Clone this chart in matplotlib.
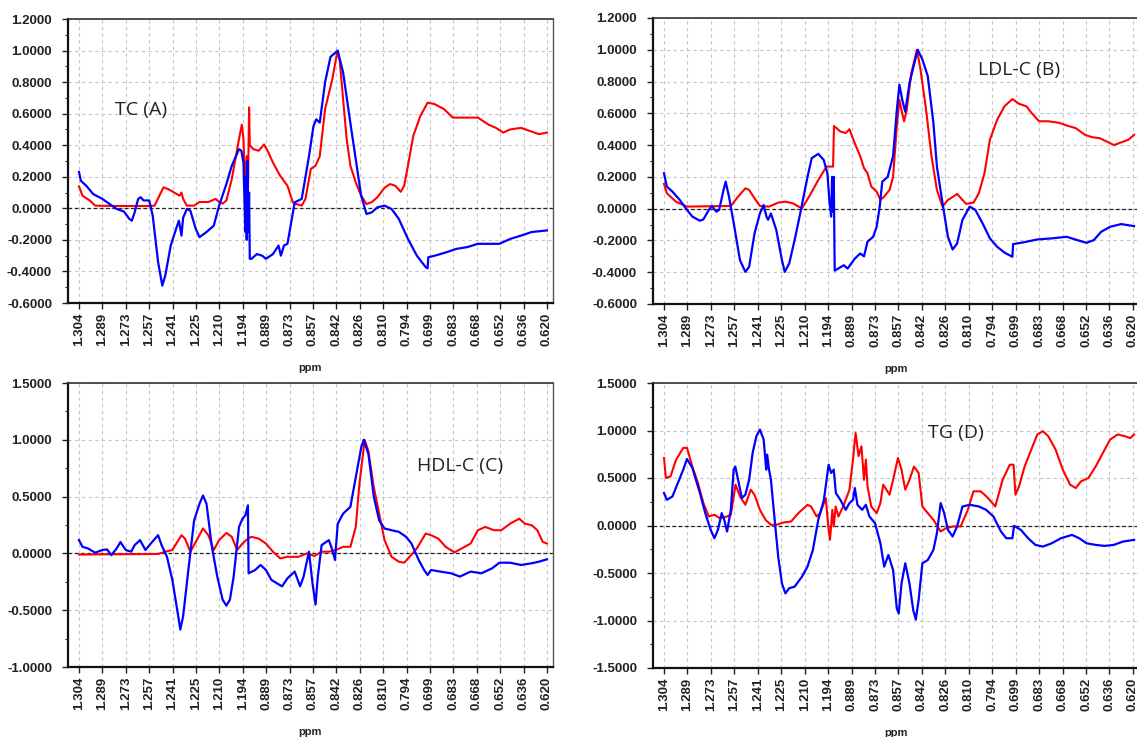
import matplotlib
matplotlib.use("Agg")
import matplotlib.pyplot as plt
from matplotlib.ticker import MultipleLocator, FormatStrFormatter, FixedLocator
import numpy as np

# ---------------- data ----------------
ppm_labels = ["1.304", "1.289", "1.273", "1.257", "1.241", "1.225", "1.210", "1.194",
              "0.889", "0.873", "0.857", "0.842", "0.826", "0.810", "0.794", "0.699",
              "0.683", "0.668", "0.652", "0.636", "0.620"]

# positions are in units of the ppm tick index (0 = 1.304 ... 20 = 0.620)
tc_red_x = [0, 0.15, 0.46, 0.69, 1.5, 2.5, 3.07, 3.23, 3.61, 3.84, 4.30, 4.38, 4.45, 4.61, 4.92, 5.15, 5.53,
            5.84, 5.99, 6.14, 6.30, 6.53, 6.84, 6.96, 7.03, 7.10, 7.17, 7.22, 7.27, 7.30, 7.45, 7.68, 7.91,
            8.06, 8.29, 8.60, 8.91, 9.14, 9.29, 9.52, 9.68, 9.91, 10.11, 10.29, 10.52, 10.83, 11.03, 11.14,
            11.29, 11.44, 11.60, 11.83, 12.06, 12.29, 12.52, 12.75, 13.06, 13.29, 13.52, 13.75, 13.90, 14.06,
            14.29, 14.59, 14.90, 15.21, 15.59, 15.98, 16.59, 17.05, 17.51, 17.82, 18.13, 18.43, 18.89, 19.28,
            19.66, 20.0]
tc_red_y = [0.139, 0.08, 0.05, 0.017, 0.015, 0.015, 0.015, 0.017, 0.133, 0.12, 0.08, 0.10, 0.06, 0.017, 0.017,
            0.04, 0.04, 0.06, 0.04, 0.03, 0.05, 0.185, 0.44, 0.53, 0.44, 0.143, 0.33, 0.10, 0.64, 0.40, 0.375,
            0.365, 0.405, 0.365, 0.29, 0.206, 0.143, 0.038, 0.027, 0.017, 0.06, 0.25, 0.27, 0.33, 0.63, 0.82,
            0.985, 0.94, 0.69, 0.44, 0.27, 0.164, 0.08, 0.027, 0.04, 0.07, 0.13, 0.154, 0.143, 0.105, 0.143,
            0.27, 0.46, 0.585, 0.67, 0.66, 0.63, 0.575, 0.575, 0.575, 0.53, 0.51, 0.48, 0.50, 0.51, 0.49, 0.47,
            0.48]
tc_blue_x = [0, 0.08, 0.31, 0.61, 1.0, 1.31, 1.61, 1.92, 2.15, 2.26, 2.38, 2.53, 2.64, 2.76, 3.0, 3.15, 3.38,
             3.56, 3.69, 3.92, 4.15, 4.27, 4.38, 4.45, 4.61, 4.76, 4.99, 5.15, 5.45, 5.76, 5.99, 6.30, 6.53,
             6.84, 6.94, 7.03, 7.11, 7.14, 7.17, 7.20, 7.23, 7.27, 7.30, 7.37, 7.60, 7.83, 7.99, 8.29, 8.53,
             8.63, 8.76, 8.91, 9.22, 9.52, 9.83, 10.02, 10.14, 10.29, 10.52, 10.75, 11.06, 11.29, 11.60, 11.83,
             12.06, 12.29, 12.52, 12.75, 13.06, 13.36, 13.67, 14.06, 14.44, 14.82, 14.90, 14.93, 15.21, 15.67,
             16.13, 16.59, 17.05, 17.51, 17.97, 18.43, 18.89, 19.35, 20.0]
tc_blue_y = [0.23, 0.175, 0.143, 0.09, 0.06, 0.027, -0.004, -0.02, -0.067, -0.078, -0.025, 0.06, 0.07, 0.05,
             0.05, -0.046, -0.34, -0.49, -0.425, -0.236, -0.13, -0.078, -0.173, -0.06, -0.004, -0.015, -0.13,
             -0.183, -0.15, -0.11, 0.017, 0.154, 0.27, 0.375, 0.365, 0.29, -0.15, 0.2, -0.2, 0.3, -0.15, 0.1,
             -0.32, -0.32, -0.29, -0.30, -0.32, -0.29, -0.236, -0.30, -0.236, -0.225, 0.038, 0.06, 0.33, 0.52,
             0.564, 0.543, 0.8, 0.96, 1.0, 0.86, 0.54, 0.31, 0.08, -0.036, -0.025, 0.006, 0.017, -0.004, -0.067,
             -0.194, -0.30, -0.373, -0.38, -0.31, -0.30, -0.28, -0.257, -0.246, -0.225, -0.225, -0.225, -0.194,
             -0.173, -0.15, -0.14]

ldl_red_x = [0, 0.12, 0.51, 0.98, 2.85, 3.16, 3.47, 3.63, 3.86, 4.09, 4.48, 4.87, 5.18, 5.49, 5.88, 6.19, 6.58,
             6.93, 7.21, 7.25, 7.52, 7.75, 7.91, 8.14, 8.37, 8.53, 8.68, 8.84, 9.07, 9.23, 9.39, 9.62, 9.77,
             9.93, 10.04, 10.16, 10.24, 10.35, 10.55, 10.79, 10.94, 11.18, 11.41, 11.64, 11.88, 12.11, 12.34,
             12.50, 12.73, 12.89, 13.20, 13.43, 13.67, 13.90, 14.21, 14.52, 14.86, 15.14, 15.46, 15.69, 16.0,
             16.39, 16.86, 17.25, 17.56, 17.95, 18.26, 18.57, 18.88, 19.19, 19.50, 19.81, 20.05]
ldl_red_y = [0.156, 0.097, 0.044, 0.013, 0.017, 0.076, 0.128, 0.118, 0.065, 0.017, 0.013, 0.038, 0.044, 0.034,
             0.002, 0.076, 0.18, 0.265, 0.265, 0.52, 0.486, 0.476, 0.50, 0.41, 0.33, 0.255, 0.223, 0.139, 0.107,
             0.055, 0.076, 0.118, 0.2, 0.52, 0.686, 0.6, 0.55, 0.62, 0.855, 1.0, 0.876, 0.62, 0.33, 0.118,
             0.013, 0.055, 0.076, 0.093, 0.055, 0.03, 0.038, 0.097, 0.223, 0.434, 0.56, 0.644, 0.69, 0.66,
             0.644, 0.60, 0.55, 0.55, 0.54, 0.52, 0.507, 0.465, 0.45, 0.444, 0.423, 0.40, 0.417, 0.434, 0.465]
ldl_blue_x = [0, 0.12, 0.36, 0.67, 0.98, 1.21, 1.53, 1.68, 1.91, 2.04, 2.23, 2.35, 2.54, 2.63, 2.77, 3.0, 3.24,
              3.47, 3.63, 3.86, 4.09, 4.25, 4.37, 4.44, 4.56, 4.79, 5.03, 5.15, 5.34, 5.57, 5.81, 6.12, 6.30,
              6.58, 6.81, 6.97, 7.05, 7.13, 7.17, 7.21, 7.24, 7.28, 7.67, 7.83, 8.14, 8.37, 8.53, 8.68, 8.92,
              9.07, 9.20, 9.31, 9.54, 9.77, 9.93, 10.04, 10.16, 10.29, 10.47, 10.82, 11.02, 11.25, 11.49, 11.64,
              11.88, 12.11, 12.31, 12.50, 12.73, 13.04, 13.28, 13.59, 13.90, 14.21, 14.52, 14.86, 14.89, 15.30,
              15.92, 16.54, 17.17, 17.63, 18.02, 18.33, 18.65, 19.03, 19.50, 20.05]
ldl_blue_y = [0.223, 0.139, 0.107, 0.055, -0.008, -0.05, -0.076, -0.067, -0.008, 0.017, -0.019, -0.008, 0.118,
              0.17, 0.076, -0.114, -0.324, -0.398, -0.366, -0.156, -0.03, 0.023, -0.05, -0.07, -0.03, -0.135,
              -0.324, -0.398, -0.345, -0.198, -0.03, 0.2, 0.318, 0.345, 0.307, 0.223, 0.055, -0.05, 0.2, -0.02,
              0.2, -0.39, -0.356, -0.377, -0.314, -0.282, -0.3, -0.208, -0.177, -0.114, 0.013, 0.17, 0.2, 0.33,
              0.62, 0.78, 0.686, 0.61, 0.79, 1.0, 0.94, 0.834, 0.54, 0.265, 0.034, -0.177, -0.257, -0.22,
              -0.07, 0.013, -0.008, -0.093, -0.187, -0.24, -0.276, -0.303, -0.223, -0.213, -0.194, -0.187,
              -0.177, -0.198, -0.215, -0.198, -0.145, -0.114, -0.097, -0.11]

hdl_red_x = [0, 3.38, 3.69, 3.99, 4.38, 4.53, 4.76, 4.99, 5.30, 5.53, 5.76, 5.99, 6.30, 6.53, 6.76, 6.99, 7.22,
             7.37, 7.68, 7.99, 8.29, 8.60, 8.91, 9.37, 9.75, 10.06, 10.37, 10.68, 10.98, 11.29, 11.60, 11.83,
             11.98, 12.21, 12.37, 12.60, 12.83, 13.06, 13.36, 13.67, 13.90, 14.13, 14.44, 14.82, 15.05, 15.36,
             15.67, 16.05, 16.36, 16.74, 17.05, 17.36, 17.74, 18.05, 18.43, 18.82, 19.05, 19.35, 19.59, 19.82,
             20.0]
hdl_red_y = [-0.01, -0.005, 0.015, 0.03, 0.16, 0.13, 0.015, 0.1, 0.22, 0.16, 0.03, 0.117, 0.18, 0.146, 0.03,
             0.087, 0.13, 0.146, 0.13, 0.087, 0.015, -0.044, -0.03, -0.03, 0.0, -0.023, 0.015, 0.015, 0.03,
             0.058, 0.058, 0.233, 0.6, 1.0, 0.9, 0.583, 0.35, 0.117, -0.03, -0.073, -0.082, -0.03, 0.044, 0.175,
             0.16, 0.13, 0.058, 0.009, 0.044, 0.087, 0.204, 0.233, 0.204, 0.204, 0.262, 0.306, 0.262, 0.248,
             0.204, 0.102, 0.087]
hdl_blue_x = [0, 0.15, 0.38, 0.69, 1.0, 1.20, 1.38, 1.61, 1.77, 2.0, 2.23, 2.38, 2.61, 2.84, 3.07, 3.38, 3.53,
              3.76, 3.99, 4.22, 4.33, 4.45, 4.69, 4.92, 5.15, 5.30, 5.45, 5.68, 5.91, 6.14, 6.30, 6.45, 6.61,
              6.84, 6.99, 7.11, 7.22, 7.25, 7.53, 7.76, 7.99, 8.22, 8.45, 8.68, 8.91, 9.22, 9.45, 9.60, 9.83,
              9.98, 10.11, 10.21, 10.37, 10.68, 10.83, 10.94, 11.06, 11.29, 11.60, 11.83, 12.06, 12.17, 12.37,
              12.60, 12.83, 13.06, 13.36, 13.67, 13.98, 14.21, 14.52, 14.75, 14.90, 15.05, 15.44, 15.90, 16.28,
              16.74, 17.20, 17.66, 17.97, 18.43, 18.89, 19.35, 19.66, 20.0]
hdl_blue_y = [0.117, 0.058, 0.044, 0.006, 0.03, 0.035, -0.015, 0.044, 0.1, 0.03, 0.015, 0.073, 0.117, 0.03,
              0.087, 0.16, 0.073, -0.03, -0.233, -0.525, -0.67, -0.554, -0.117, 0.29, 0.437, 0.51, 0.437, 0.058,
              -0.204, -0.408, -0.46, -0.408, -0.204, 0.233, 0.306, 0.335, 0.423, -0.175, -0.146, -0.102, -0.146,
              -0.233, -0.262, -0.29, -0.219, -0.16, -0.29, -0.204, 0.015, -0.262, -0.45, -0.2, 0.073, 0.117,
              0.03, -0.058, 0.262, 0.35, 0.41, 0.67, 0.93, 1.0, 0.875, 0.5, 0.29, 0.219, 0.204, 0.19, 0.146,
              0.087, -0.058, -0.146, -0.19, -0.146, -0.16, -0.175, -0.204, -0.16, -0.175, -0.131, -0.082, -0.082,
              -0.102, -0.087, -0.073, -0.052]

tg_red_x = [0, 0.08, 0.28, 0.51, 0.82, 0.98, 1.21, 1.45, 1.68, 1.91, 2.15, 2.38, 2.69, 2.85, 3.05, 3.24, 3.47,
            3.70, 3.86, 4.09, 4.33, 4.56, 4.79, 5.10, 5.42, 5.73, 6.12, 6.27, 6.51, 6.66, 6.90, 7.02, 7.08,
            7.18, 7.24, 7.32, 7.44, 7.67, 7.91, 8.06, 8.17, 8.30, 8.42, 8.53, 8.61, 8.68, 8.84, 9.07, 9.23,
            9.35, 9.62, 9.77, 9.98, 10.13, 10.29, 10.47, 10.66, 10.86, 11.02, 11.25, 11.49, 11.80, 12.03,
            12.34, 12.65, 12.96, 13.20, 13.51, 13.82, 14.13, 14.44, 14.75, 14.91, 14.99, 15.14, 15.38, 15.61,
            15.92, 16.16, 16.39, 16.70, 17.01, 17.32, 17.56, 17.79, 18.10, 18.41, 18.72, 19.03, 19.35, 19.66,
            19.89, 20.05]
tg_red_y = [0.71, 0.5, 0.518, 0.69, 0.817, 0.817, 0.62, 0.447, 0.236, 0.095, 0.113, 0.077, 0.095, 0.113, 0.43,
            0.306, 0.218, 0.377, 0.324, 0.165, 0.06, 0.007, 0.007, 0.032, 0.042, 0.13, 0.218, 0.2, 0.095, 0.13,
            0.289, -0.046, -0.15, 0.165, -0.01, 0.2, 0.095, 0.218, 0.377, 0.694, 0.975, 0.73, 0.834, 0.48,
            0.694, 0.41, 0.2, 0.13, 0.236, 0.43, 0.324, 0.48, 0.71, 0.588, 0.377, 0.48, 0.62, 0.553, 0.2, 0.13,
            0.06, -0.063, -0.028, -0.01, -0.01, 0.165, 0.36, 0.36, 0.289, 0.2, 0.48, 0.64, 0.64, 0.324, 0.41,
            0.62, 0.764, 0.958, 0.993, 0.94, 0.8, 0.588, 0.43, 0.394, 0.465, 0.5, 0.62, 0.764, 0.905, 0.958,
            0.94, 0.92, 0.958]
tg_blue_x = [0, 0.12, 0.36, 0.59, 0.82, 0.98, 1.21, 1.53, 1.76, 1.99, 2.15, 2.30, 2.46, 2.57, 2.69, 2.85, 2.97,
             3.04, 3.16, 3.32, 3.47, 3.63, 3.78, 3.94, 4.09, 4.25, 4.36, 4.40, 4.48, 4.56, 4.72, 4.87, 5.03,
             5.18, 5.34, 5.57, 5.88, 6.12, 6.35, 6.58, 6.82, 7.02, 7.13, 7.24, 7.33, 7.52, 7.75, 7.91, 8.06,
             8.14, 8.25, 8.45, 8.61, 8.76, 9.00, 9.23, 9.39, 9.57, 9.77, 9.93, 10.01, 10.13, 10.29, 10.47,
             10.63, 10.74, 10.86, 11.02, 11.25, 11.49, 11.64, 11.80, 11.95, 12.11, 12.31, 12.50, 12.73, 13.04,
             13.43, 13.74, 14.05, 14.37, 14.60, 14.86, 14.93, 15.22, 15.53, 15.84, 16.16, 16.54, 16.93, 17.40,
             17.71, 18.02, 18.41, 18.79, 19.19, 19.58, 20.05]
tg_blue_y = [0.342, 0.27, 0.306, 0.447, 0.588, 0.7, 0.606, 0.342, 0.13, -0.046, -0.134, -0.046, 0.13, 0.06,
             -0.063, 0.165, 0.588, 0.62, 0.48, 0.289, 0.324, 0.48, 0.764, 0.94, 1.01, 0.905, 0.588, 0.746,
             0.588, 0.48, 0.06, -0.327, -0.61, -0.715, -0.66, -0.644, -0.54, -0.433, -0.257, 0.06, 0.27, 0.64,
             0.553, 0.588, 0.342, 0.27, 0.165, 0.236, 0.27, 0.394, 0.218, 0.165, 0.218, 0.095, 0.025, -0.187,
             -0.433, -0.31, -0.468, -0.873, -0.926, -0.61, -0.398, -0.61, -0.89, -0.99, -0.785, -0.398, -0.363,
             -0.257, -0.081, 0.236, 0.13, -0.046, -0.116, -0.01, 0.2, 0.218, 0.2, 0.165, 0.095, -0.063, -0.134,
             -0.134, -0.004, -0.046, -0.134, -0.204, -0.222, -0.187, -0.134, -0.099, -0.134, -0.187, -0.204,
             -0.215, -0.204, -0.169, -0.151]

panel_titles = ["TC (A)", "LDL-C (B)", "HDL-C (C)", "TG (D)"]

# ---------------- figure ----------------
W, H = 1137, 737
fig = plt.figure(figsize=(W / 100, H / 100), dpi=100)
fig.patch.set_facecolor("white")

def frac(left, right, top, bottom):
    return [left / W, 1 - bottom / H, (right - left) / W, (bottom - top) / H]

panels = [
    dict(rect=frac(68, 553, 19, 303), red=(tc_red_x, tc_red_y), blue=(tc_blue_x, tc_blue_y),
         ylim=(-0.6, 1.2), step=0.2, title=panel_titles[0], tpos=(1.54, 0.625)),
    dict(rect=frac(653, 1139, 18, 304), red=(ldl_red_x, ldl_red_y), blue=(ldl_blue_x, ldl_blue_y),
         ylim=(-0.6, 1.2), step=0.2, title=panel_titles[1], tpos=(13.4, 0.87)),
    dict(rect=frac(68, 553, 383, 667), red=(hdl_red_x, hdl_red_y), blue=(hdl_blue_x, hdl_blue_y),
         ylim=(-1.0, 1.5), step=0.5, title=panel_titles[2], tpos=(14.45, 0.77)),
    dict(rect=frac(653, 1139, 383, 668), red=(tg_red_x, tg_red_y), blue=(tg_blue_x, tg_blue_y),
         ylim=(-1.5, 1.5), step=0.5, title=panel_titles[3], tpos=(11.25, 0.97)),
]

tick_font = dict(family="Liberation Sans", weight="bold", size=9.5)

for p in panels:
    ax = fig.add_axes(p["rect"])
    ax.set_xlim(-0.47, 20.26)
    ax.set_ylim(*p["ylim"])
    ax.grid(True, color="#c4c4c4", linestyle=(0, (3, 3)), linewidth=0.8)
    ax.set_axisbelow(True)
    ax.axhline(0, color="#222222", linestyle=(0, (3, 2)), linewidth=0.9, zorder=1.5)
    ax.plot(p["red"][0], p["red"][1], color="#ff0000", linewidth=1.5, zorder=2)
    ax.plot(p["blue"][0], p["blue"][1], color="#0000ff", linewidth=1.6, zorder=3)

    ax.xaxis.set_major_locator(FixedLocator(list(range(len(ppm_labels)))))
    ax.set_xticklabels(ppm_labels, rotation=90, **tick_font)
    ax.yaxis.set_major_locator(MultipleLocator(p["step"]))
    ax.yaxis.set_minor_locator(MultipleLocator(p["step"] / 2))
    ax.yaxis.set_major_formatter(FormatStrFormatter("%.4f"))
    for lab in ax.get_yticklabels():
        lab.set_fontfamily("Liberation Sans")
        lab.set_fontweight("bold")
        lab.set_fontsize(9.5)
    ax.tick_params(axis="y", which="major", length=4.5, width=1.0, color="#222222",
                   labelcolor="#222222", pad=7)
    ax.tick_params(axis="x", which="major", length=4, width=1.0, color="#222222",
                   labelcolor="#222222", pad=3)
    ax.tick_params(axis="y", which="minor", length=2.5, width=0.8, color="#222222")
    ax.tick_params(axis="x", which="minor", bottom=False)

    for side in ("left", "bottom"):
        ax.spines[side].set_linewidth(1.6)
        ax.spines[side].set_color("#111111")
    ax.spines["top"].set_linewidth(1.2)
    ax.spines["top"].set_color("#333333")
    ax.spines["right"].set_linewidth(1.0)
    ax.spines["right"].set_color("#555555")

    ax.set_xlabel("ppm", fontfamily="Liberation Sans", fontweight="bold", fontsize=8,
                  color="#222222", labelpad=12)
    ax.text(p["tpos"][0], p["tpos"][1], p["title"], fontfamily="Open Sans", fontsize=14,
            color="#222222", ha="left", va="center")

fig.savefig("out.png", dpi=100, facecolor="white")
